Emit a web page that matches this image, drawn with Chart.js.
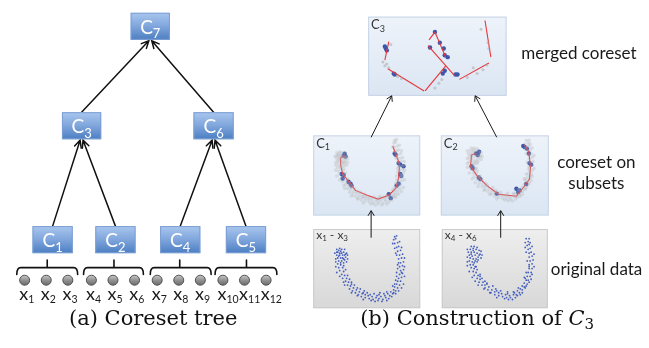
<!DOCTYPE html>
<html>
<head>
<meta charset="utf-8">
<script src="https://cdn.jsdelivr.net/npm/chart.js@4.4.0/dist/chart.umd.min.js"></script>
<style>
  html, body { margin: 0; padding: 0; background: #ffffff; }
  canvas { display: block; }
</style>
</head>
<body>
<canvas id="fig" width="649" height="348"></canvas>
<script>
// ---------- tree structure ----------
const treeNodes = ['C7', 'C3', 'C6', 'C1', 'C2', 'C4', 'C5'];
const treeEdges = [['C3', 'C7'], ['C6', 'C7'], ['C1', 'C3'], ['C2', 'C3'], ['C4', 'C6'], ['C5', 'C6']];
const leafParents = ['C1', 'C2', 'C4', 'C5'];
const leafLabels = ['1', '2', '3', '4', '5', '6', '7', '8', '9', '10', '11', '12'];

// ---------- point sets (figure coordinates) ----------
// x1 - x3
const originalA = [
  [338,255],[341,254],[344,255],[346,257],[337,258],[340,258],[343,258],[346,260],[338,261],[341,261],
  [344,262],[336,262],[339,264],[342,264],[345,263],[340,256],[343,261],[347,256],[339,253],[342,252],
  [338,267],[341,268],[339,271],[343,271],[340,274],[344,275],[342,278],[345,279],[343,282],[347,282],
  [346,285],[349,286],[348,289],[351,290],[350,293],[354,292],[353,295],[357,294],[356,297],[360,296],
  [359,299],[363,298],[362,301],[366,299],[366,302],[369,300],[370,303],[373,301],[374,304],[377,302],
  [378,300],[380,303],[382,301],[384,304],[386,300],[387,302],[389,298],[391,300],[392,296],[394,298],
  [395,294],[397,295],[396,291],[399,292],[398,288],[401,289],[399,285],[402,285],[400,282],[403,281],
  [401,278],[404,277],[402,274],[405,273],[401,270],[404,269],[402,266],[405,265],[400,262],[403,261],
  [401,258],[404,257],[399,254],[402,253],[398,250],[400,249],[396,246],[399,245],[395,242],[397,241],
  [352,288],[358,292],[364,297],[371,299],[380,299],[388,296],[396,288],[398,280],[399,268],[397,256],
  [335,256],[337,252],[340,251],[345,252],[348,258],[348,262],[336,265],[341,266],[344,266],[347,265],
  [339,259],[342,256],[345,258],[337,255],[336,270],[344,269],[337,276],[346,273],[340,280],[348,279],
  [344,286],[350,283],[345,289],[352,286],[355,289],[352,297],[358,300],[361,293],[365,295],[364,304],
  [368,297],[372,305],[375,298],[376,306],[379,305],[381,297],[383,306],[385,298],[388,305],[390,303],
  [393,301],[395,297],[394,290],[397,298],[400,295],[403,292],[405,288],[397,284],[403,276],[406,280],
  [398,276],[406,270],[399,272],[400,266],[406,261],[398,258],[403,250],[396,251],[401,244],[394,246],
  [398,238],[396,239]
];
// x4 - x6
const originalB = [
  [473,252],[476,251],[479,252],[482,253],[471,255],[474,255],[477,255],[480,256],[483,257],[472,258],
  [475,259],[478,258],[481,260],[473,261],[476,262],[479,262],[472,264],[475,265],[478,264],[477,249],
  [473,268],[476,268],[474,271],[477,272],[476,275],[479,276],[477,279],[481,279],[480,282],[483,283],
  [482,286],[486,286],[485,289],[488,289],[488,292],[492,291],[491,294],[495,294],[494,297],[498,296],
  [498,299],[502,297],[502,300],[505,298],[506,301],[509,299],[510,302],[513,300],[514,302],[517,299],
  [518,297],[520,299],[521,295],[523,297],[524,293],[526,294],[526,290],[528,291],[528,287],[531,288],
  [530,284],[532,284],[531,280],[534,280],[532,276],[535,276],[533,272],[536,272],[533,268],[536,267],
  [534,264],[537,263],[533,260],[536,259],[533,256],[535,255],[532,252],[534,251],[531,248],[533,247],
  [529,245],[532,244],[478,270],[483,280],[490,288],[500,295],[511,298],[522,292],[529,282],[533,270],
  [470,252],[474,249],[480,250],[484,254],[485,258],[470,260],[474,257],[481,263],[484,261],[470,265],
  [477,266],[480,265],[476,253],[482,258],[470,269],[479,270],[472,275],[480,273],[475,281],[483,278],
  [478,285],[485,282],[481,289],[488,285],[490,287],[487,293],[493,297],[496,290],[499,293],[500,302],
  [504,295],[508,303],[511,296],[512,304],[516,304],[517,296],[519,302],[521,300],[524,299],[526,297],
  [529,292],[530,290],[533,286],[535,283],[528,281],[536,278],[530,276],[538,270],[531,264],[538,257],
  [530,255],[536,249],[529,250],[534,245],[530,241],[533,241]
];

// coreset of x1 - x3 (C1)
const coresetA = [
  [344,155],[346,156],[345,153],[342,174],[344,175],[343,178.7],[349,182],[351,184],[352,186],[390,195],
  [392,199],[396,152.7],[397,154],[400,162.7],[401.7,164.3],[405,166],[401.7,174],[402.7,176],[400,184],[398,186]
];
const coresetPathA = [
  [346,155],[341,157],[341,165],[343,174],[351,184],[356,191],[368,196],[379,200],[390,196],[397,189],
  [400,178],[401,164],[397,153],[394,145]
];
// coreset of x4 - x6 (C2)
const coresetB = [
  [479,152.7],[480.7,154.3],[482,151],[474.3,166],[475.5,168],[481.7,177.7],[483.3,179.3],[500,194.3],[520,189.3],
  [521.7,192.7],[523.3,191],[530,184.3],[533.3,162.7],[535,164.3],[528.3,146],[530.7,147.7],[532.7,152.7],[527,145]
];
const coresetPathB = [
  [479.3,152.7],[474.3,154.3],[473.3,166],[480,176],[490,186],[501.7,195],[520,197],[527.3,187.7],
  [533.3,179.3],[534.3,167.7],[532.7,151],[528.3,143.7]
];
// merged coreset (C3)
const mergedPoints = [
  [386,42],[387,44],[388,46],[395,70],[396,71],[437,27],[432,43],[442,38],[446,44],[447,51],
  [450,53],[445,70],[447,67],[458,71],[460,71]
];
const mergedFaint = [
  [388,60],[386,62],[390,64],[384,58],[399,73],[403,75],[437,85],[484,24],[491,38],[492,44],
  [476,64],[480,70],[490,61],[486,66],[470,74],[392,40],[444,76],[441,80]
];
const mergedSegments = [
  [[390,37],[386,56]], [[389,65],[426,88]], [[427,88],[448,62]], [[430,41],[457,72]],
  [[431,35],[437,27]], [[437,27],[448,53]], [[488,15],[494,53]], [[492,59],[462,76]]
];

// ---------- layout ----------
const layout = {
  node: {
    C7: { x: 127, y: 7,   w: 40, h: 28 },
    C3: { x: 57,  y: 110, w: 40, h: 28 },
    C6: { x: 191, y: 110, w: 41, h: 28 },
    C1: { x: 27,  y: 228, w: 41, h: 28 },
    C2: { x: 91,  y: 228, w: 41, h: 28 },
    C4: { x: 157, y: 228, w: 41, h: 28 },
    C5: { x: 224, y: 228, w: 41, h: 28 }
  },
  leafX: [19, 41, 63, 87, 109, 131, 154, 176, 198, 221, 243, 265],
  leafY: 284,
  braces: [[11, 73, 42], [79, 140, 110], [147, 209, 177], [213, 276, 245]],
  braceY: 271,
  panels: [
    { x: 369, y: 11,  w: 141, h: 82, kind: 'coreset', label: ['C', '3'] },
    { x: 313, y: 134, w: 109, h: 83, kind: 'coreset', label: ['C', '1'] },
    { x: 443, y: 134, w: 110, h: 83, kind: 'coreset', label: ['C', '2'] },
    { x: 313, y: 231, w: 109, h: 82, kind: 'data', label: ['x', '1', ' - x', '3'] },
    { x: 444, y: 231, w: 108, h: 82, kind: 'data', label: ['x', '4', ' - x', '6'] }
  ],
  panelArrows: [
    [[372, 240], [372, 212]], [[504, 240], [504, 212]],
    [[372, 136], [393, 93]],  [[500, 136], [478, 93]]
  ],
  fuzzShiftA: -100,
  fuzzShiftB: -102
};

const SANS = 'Lato, "Open Sans", sans-serif';
const SERIF = '"DejaVu Serif", serif';

const toXY = a => a.map(p => ({ x: p[0], y: p[1] }));
const shifted = (a, dy) => a.map(p => ({ x: p[0], y: p[1] + dy }));

// ---------- datasets ----------
const datasets = [];
datasets.push({ data: toXY(originalA).concat(toXY(originalB)), pointRadius: 0.9,
  backgroundColor: 'rgba(50,80,185,0.9)', pointBorderWidth: 0 });
datasets.push({ data: shifted(originalA, layout.fuzzShiftA).concat(shifted(originalB, layout.fuzzShiftB)),
  pointRadius: 1.8, backgroundColor: 'rgba(175,175,175,0.3)', pointBorderWidth: 0 });
datasets.push({ data: toXY(mergedFaint), pointRadius: 1.5, backgroundColor: 'rgba(170,170,170,0.55)', pointBorderWidth: 0 });
[coresetPathA, coresetPathB].forEach(path => datasets.push({
  data: toXY(path), showLine: true, pointRadius: 0, borderColor: '#e8363a', borderWidth: 1.1, fill: false
}));
mergedSegments.forEach(seg => datasets.push({
  data: toXY(seg), showLine: true, pointRadius: 0, borderColor: '#e8363a', borderWidth: 1.1, fill: false
}));
datasets.push({ data: toXY(coresetA).concat(toXY(coresetB)).concat(toXY(mergedPoints)),
  pointRadius: 2.2, backgroundColor: '#3c56ab', pointBorderWidth: 0 });
// leaves of the tree
datasets.push({
  data: leafLabels.map((l, i) => ({ x: layout.leafX[i], y: layout.leafY })),
  pointRadius: 5, borderColor: '#505050', borderWidth: 1,
  backgroundColor: (c) => {
    const ch = c.chart;
    if (c.type !== 'data' || !c.raw || !ch.scales || !ch.scales.y) return '#8c8c8c';
    const y = ch.scales.y.getPixelForValue(c.raw.y);
    if (!isFinite(y)) return '#8c8c8c';
    const g = ch.ctx.createLinearGradient(0, y - 5, 0, y + 5);
    g.addColorStop(0, '#c8c8c8');
    g.addColorStop(0.5, '#929292');
    g.addColorStop(1, '#6a6a6a');
    return g;
  }
});

// ---------- drawing helpers ----------
function rich(ctx, parts, x, y, align) {
  let w = 0;
  parts.forEach(p => { ctx.font = p[1]; w += ctx.measureText(p[0]).width; });
  let cx = align === 'center' ? x - w / 2 : x;
  ctx.textAlign = 'left';
  ctx.textBaseline = 'alphabetic';
  parts.forEach(p => {
    ctx.font = p[1];
    ctx.fillText(p[0], cx, y + (p[2] || 0));
    cx += ctx.measureText(p[0]).width;
  });
}

function arrow(ctx, x0, y0, x1, y1, head, spread, lw) {
  ctx.lineWidth = lw;
  ctx.beginPath();
  ctx.moveTo(x0, y0);
  ctx.lineTo(x1, y1);
  const a = Math.atan2(y1 - y0, x1 - x0);
  ctx.moveTo(x1 - head * Math.cos(a - spread), y1 - head * Math.sin(a - spread));
  ctx.lineTo(x1, y1);
  ctx.lineTo(x1 - head * Math.cos(a + spread), y1 - head * Math.sin(a + spread));
  ctx.stroke();
}

const diagram = {
  id: 'diagram',
  beforeDatasetsDraw(chart) {
    const ctx = chart.ctx;
    const X = v => chart.scales.x.getPixelForValue(v);
    const Y = v => chart.scales.y.getPixelForValue(v);
    ctx.save();

    // panel backgrounds
    layout.panels.forEach(p => {
      const x = X(p.x), y = Y(p.y), w = X(p.x + p.w) - x, h = Y(p.y + p.h) - y;
      const g = ctx.createLinearGradient(0, y, 0, y + h);
      if (p.kind === 'coreset') { g.addColorStop(0, '#eef3fa'); g.addColorStop(1, '#dbe6f3'); }
      else { g.addColorStop(0, '#eeeeee'); g.addColorStop(1, '#d8d8d8'); }
      ctx.fillStyle = g;
      ctx.fillRect(x, y, w, h);
      ctx.strokeStyle = p.kind === 'coreset' ? '#c6d4e6' : '#cbcbcb';
      ctx.lineWidth = 1;
      ctx.strokeRect(x + 0.5, y + 0.5, w - 1, h - 1);
    });

    // panel arrows
    ctx.strokeStyle = '#1a1a1a';
    layout.panelArrows.forEach(a => arrow(ctx, X(a[0][0]), Y(a[0][1]), X(a[1][0]), Y(a[1][1]), 6, 0.55, 1));

    // tree edges
    ctx.strokeStyle = '#111111';
    ctx.lineCap = 'round';
    const siblings = {};
    treeEdges.forEach(([c, p]) => {
      const cn = layout.node[c], pn = layout.node[p];
      siblings[p] = (siblings[p] || 0) + 1;
      const off = siblings[p] === 1 ? -1.5 : 1.5;
      arrow(ctx, X(cn.x + cn.w / 2), Y(cn.y), X(pn.x + pn.w / 2 + off), Y(pn.y + pn.h + 1), 8, 0.45, 1.5);
    });

    // braces under the leaf-level coresets
    ctx.lineWidth = 1.6;
    layout.braces.forEach(([a, b, m]) => {
      const yb = Y(layout.braceY);
      ctx.beginPath();
      ctx.moveTo(X(a), Y(layout.braceY + 7));
      ctx.quadraticCurveTo(X(a), yb, X(a + 4), yb);
      ctx.lineTo(X(b - 4), yb);
      ctx.quadraticCurveTo(X(b), yb, X(b), Y(layout.braceY + 7));
      ctx.moveTo(X(m), yb);
      ctx.lineTo(X(m), Y(layout.braceY - 8));
      ctx.stroke();
    });

    // tree nodes
    treeNodes.forEach(name => {
      const n = layout.node[name];
      const x = X(n.x), y = Y(n.y), w = X(n.x + n.w) - x, h = Y(n.y + n.h) - y;
      const g = ctx.createLinearGradient(0, y, 0, y + h);
      g.addColorStop(0, '#a9c6ee');
      g.addColorStop(0.45, '#84a9de');
      g.addColorStop(1, '#4c7ec2');
      ctx.fillStyle = g;
      ctx.fillRect(x, y, w, h);
      ctx.strokeStyle = '#7b9fd3';
      ctx.lineWidth = 1;
      ctx.strokeRect(x + 0.5, y + 0.5, w - 1, h - 1);
      ctx.fillStyle = '#ffffff';
      rich(ctx, [[name[0], '19px ' + SANS], [name.slice(1), '13px ' + SANS, 4.5]], x + w / 2, y + 21, 'center');
    });
    ctx.restore();
  },
  afterDatasetsDraw(chart) {
    const ctx = chart.ctx;
    const X = v => chart.scales.x.getPixelForValue(v);
    const Y = v => chart.scales.y.getPixelForValue(v);
    ctx.save();

    // leaf labels
    ctx.fillStyle = '#1a1a1a';
    leafLabels.forEach((l, i) => {
      rich(ctx, [['x', '18px ' + SANS], [l, '10.5px ' + SANS, 3]], X(layout.leafX[i] - 5.5), Y(304), 'left');
    });

    // panel labels
    ctx.fillStyle = '#333333';
    layout.panels.forEach(p => {
      const big = p.kind === 'coreset' ? '13px ' : '12px ';
      const small = p.kind === 'coreset' ? '9px ' : '8px ';
      const parts = [];
      p.label.forEach((t, i) => parts.push([t, (i % 2 ? small : big) + SANS, i % 2 ? 2.5 : 0]));
      rich(ctx, parts, X(p.x + 3), Y(p.y + (p.kind === 'coreset' ? 13 : 10)), 'left');
    });

    // side annotations
    ctx.fillStyle = '#1a1a1a';
    rich(ctx, [['merged coreset', '17px ' + SANS]], X(525), Y(55), 'left');
    rich(ctx, [['coreset on', '17px ' + SANS]], X(601.5), Y(168), 'center');
    rich(ctx, [['subsets', '17px ' + SANS]], X(601.5), Y(190), 'center');
    rich(ctx, [['original data', '17px ' + SANS]], X(555), Y(279), 'left');

    // captions
    ctx.fillStyle = '#111111';
    rich(ctx, [['(a) Coreset tree', '21px ' + SERIF]], X(150), Y(330), 'center');
    rich(ctx, [['(b) Construction of ', '21px ' + SERIF], ['C', 'italic 21px ' + SERIF], ['3', '15px ' + SERIF, 4]],
      X(480), Y(330), 'center');
    ctx.restore();
  }
};

new Chart(document.getElementById('fig'), {
  type: 'scatter',
  data: { datasets },
  options: {
    responsive: false,
    animation: false,
    devicePixelRatio: 1,
    events: [],
    layout: { padding: 0 },
    plugins: { legend: { display: false }, tooltip: { enabled: false } },
    scales: {
      x: { type: 'linear', min: 0, max: 649, display: false },
      y: { type: 'linear', min: 0, max: 348, reverse: true, display: false }
    }
  },
  plugins: [diagram]
});
</script>
</body>
</html>
